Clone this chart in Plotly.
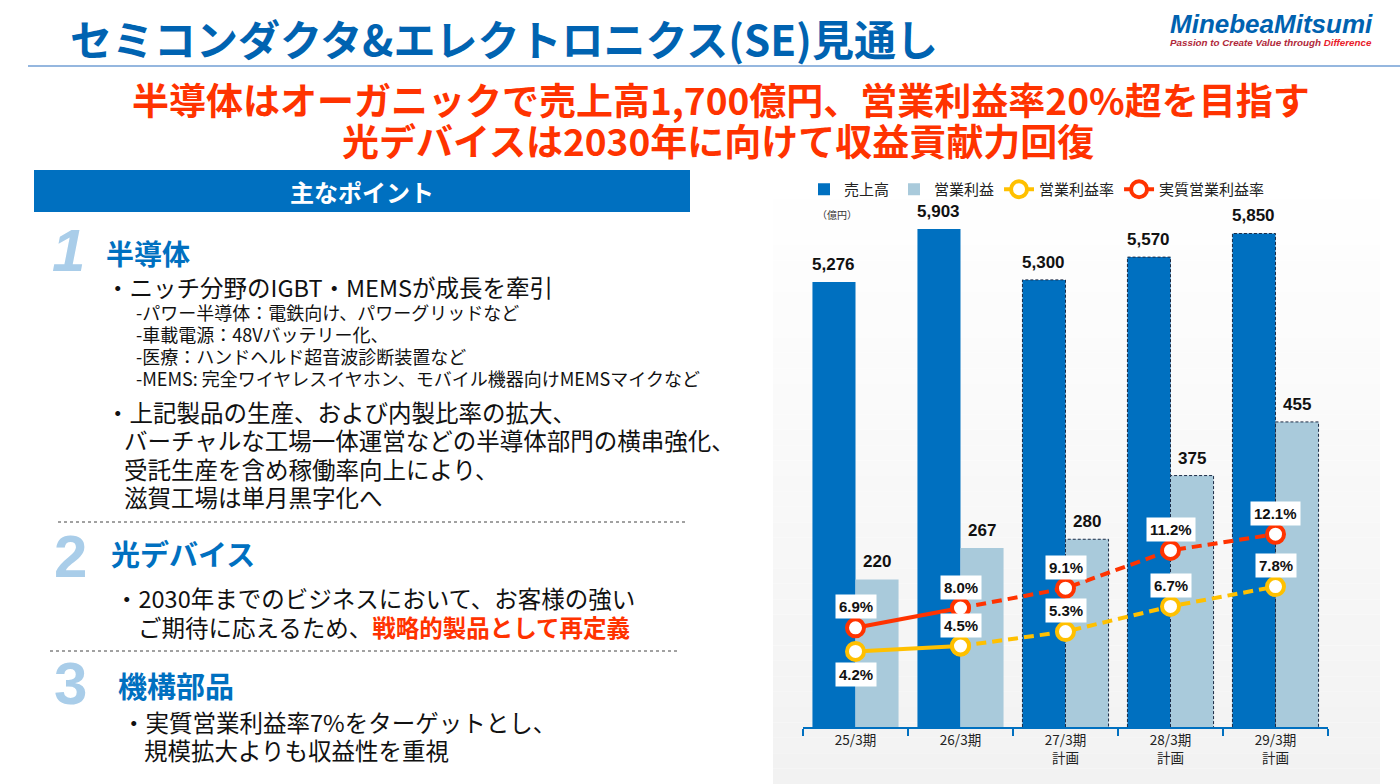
import plotly.graph_objects as go

W, H = 1400, 784
JP = "Noto Sans CJK JP"
LAT = "Liberation Sans"

# ---------------- data ----------------
categories = ["25/3期", "26/3期", "27/3期<br>計画", "28/3期<br>計画", "29/3期<br>計画"]
sales = [5276, 5903, 5300, 5570, 5850]          # 売上高 (億円)
profit = [220, 267, 280, 375, 455]              # 営業利益 (億円)
op_margin = [4.2, 4.5, 5.3, 6.7, 7.8]           # 営業利益率 (%)
adj_margin = [6.9, 8.0, 9.1, 11.2, 12.1]        # 実質営業利益率 (%)
first_plan = 2                                  # 計画 starts from 27/3期

BLUE = "#0070c0"
LIGHT = "#a9cadb"
YEL = "#ffc000"
RED = "#ff3300"
BW = 0.41

xs = list(range(len(categories)))


def px(x):
    return x / W


def py(y):
    return 1 - y / H


fig = go.Figure()

# ---------------- bars ----------------
fig.add_trace(go.Bar(x=xs, y=sales, name="売上高", marker=dict(color=BLUE, line=dict(width=0)),
                     width=[BW] * len(xs), offset=[-BW] * len(xs), yaxis="y", xaxis="x"))
fig.add_trace(go.Bar(x=xs, y=profit, name="営業利益", marker=dict(color=LIGHT, line=dict(width=0)),
                     width=[BW] * len(xs), offset=[0] * len(xs), yaxis="y2", xaxis="x"))

# dashed outlines for plan bars
def outline(vals, left):
    ox, oy = [], []
    for i in xs[first_plan:]:
        x0 = i - BW if left else i
        x1 = x0 + BW
        ox += [x0, x0, x1, x1, None]
        oy += [0, vals[i], vals[i], 0, None]
    return ox, oy

ox, oy = outline(sales, True)
fig.add_trace(go.Scatter(x=ox, y=oy, mode="lines", yaxis="y", showlegend=False, hoverinfo="skip",
                         line=dict(color="#1c2b45", width=1, dash="3px,2px")))
ox, oy = outline(profit, False)
fig.add_trace(go.Scatter(x=ox, y=oy, mode="lines", yaxis="y2", showlegend=False, hoverinfo="skip",
                         line=dict(color="#1c2b45", width=1, dash="3px,2px")))

# ---------------- lines ----------------
def add_line(vals, color, name, axis):
    mk = dict(size=17, color="white", line=dict(color=color, width=4))
    fig.add_trace(go.Scatter(x=xs[first_plan - 1:], y=vals[first_plan - 1:], mode="lines+markers",
                             yaxis=axis, showlegend=False, hoverinfo="skip",
                             line=dict(color=color, width=4, dash="10px,6px"), marker=mk))
    fig.add_trace(go.Scatter(x=xs[:first_plan], y=vals[:first_plan], mode="lines+markers",
                             yaxis=axis, name=name,
                             line=dict(color=color, width=4), marker=mk))

add_line(op_margin, YEL, "営業利益率", "y3")
add_line(adj_margin, RED, "実質営業利益率", "y4")

# ---------------- value labels ----------------
ann = []
for i in xs:
    ann.append(dict(x=i - BW / 2, y=sales[i], xref="x", yref="y", text=f"<b>{sales[i]:,}</b>",
                    showarrow=False, yanchor="bottom", yshift=6,
                    font=dict(family=LAT, size=17, color="#111")))
    ann.append(dict(x=i + BW / 2, y=profit[i], xref="x", yref="y2", text=f"<b>{profit[i]:,}</b>",
                    showarrow=False, yanchor="bottom", yshift=6,
                    font=dict(family=LAT, size=17, color="#111")))
    ann.append(dict(x=i, y=adj_margin[i], xref="x", yref="y4", text=f"<b>{adj_margin[i]:.1f}%</b>",
                    showarrow=False, yshift=21, bgcolor="white", borderpad=3,
                    font=dict(family=LAT, size=15, color="#111")))
    ann.append(dict(x=i, y=op_margin[i], xref="x", yref="y3", text=f"<b>{op_margin[i]:.1f}%</b>",
                    showarrow=False, yshift=(-23 if i == 0 else 21), bgcolor="white", borderpad=3,
                    font=dict(family=LAT, size=15, color="#111")))


def txt(x, y, s, size, color="#111", family=JP, anchor="left", **kw):
    ann.append(dict(x=px(x), y=py(y), xref="paper", yref="paper", text=s, showarrow=False,
                    xanchor=anchor, yanchor="middle", font=dict(family=family, size=size, color=color), **kw))

# unit
txt(815, 214, "（億円）", 10, "#333")

# ---------------- slide texts ----------------
txt(68, 38, "<b>セミコンダクタ&amp;エレクトロニクス(SE)見通し</b>", 42, "#0063b1")
txt(1168, 24, "<b><i>MinebeaMitsumi</i></b>", 26, "#0062b0", family=LAT)
txt(1168, 42, "<b><i>Passion to Create Value through <span style='color:#e8202a'>Difference</span></i></b>",
    9.8, "#b0283a", family=LAT)
txt(721, 99, "<b>半導体はオーガニックで売上高1,700億円、営業利益率20%超を目指す</b>", 37, RED, anchor="center")
txt(718, 140, "<b>光デバイスは2030年に向けて収益貢献力回復</b>", 37, RED, anchor="center")

txt(362, 191, "<b>主なポイント</b>", 24, "white", anchor="center")

NUMC = "#a9cde9"
MAIN = 23.5
SUB = 18
txt(50, 250, "<b><i>1</i></b>", 60, NUMC, family=LAT)
txt(104, 253, "<b>半導体</b>", 28, BLUE)
txt(104, 287, "・ニッチ分野のIGBT・MEMSが成長を牽引", MAIN)
txt(134, 312, "-パワー半導体：電鉄向け、パワーグリッドなど", SUB)
txt(134, 334, "-車載電源：48Vバッテリー化、", SUB)
txt(134, 356, "-医療：ハンドヘルド超音波診断装置など", SUB)
txt(134, 378, "-MEMS: 完全ワイヤレスイヤホン、モバイル機器向けMEMSマイクなど", SUB)
txt(104, 412, "・上記製品の生産、および内製比率の拡大、", MAIN)
txt(122, 440, "バーチャルな工場一体運営などの半導体部門の横串強化、", MAIN)
txt(122, 469, "受託生産を含め稼働率向上により、", MAIN)
txt(122, 497, "滋賀工場は単月黒字化へ", MAIN)

txt(52, 556, "<b>2</b>", 60, NUMC, family=LAT)
txt(109, 553, "<b>光デバイス</b>", 29, BLUE)
txt(113, 598, "・2030年までのビジネスにおいて、お客様の強い", MAIN)
txt(136, 627, "ご期待に応えるため、<span style='color:#ff3300'><b>戦略的製品として再定義</b></span>", MAIN)

txt(52, 683, "<b>3</b>", 60, NUMC, family=LAT)
txt(116, 685, "<b>機構部品</b>", 29, BLUE)
txt(120, 722, "・実質営業利益率7%をターゲットとし、", MAIN)
txt(142, 750, "規模拡大よりも収益性を重視", MAIN)

# ---------------- shapes ----------------
shapes = []
# chart panel with vertical gradient
top, bot, n = 168, 784, 40
for k in range(n):
    t = k / (n - 1)
    c = int(round(255 - 13 * t))
    shapes.append(dict(type="rect", xref="paper", yref="paper", layer="below", line=dict(width=0),
                       x0=px(773), x1=px(1380), y0=py(top + (bot - top) * k / n),
                       y1=py(top + (bot - top) * (k + 1) / n), fillcolor=f"rgb({c},{c},{c})"))
shapes.append(dict(type="line", xref="paper", yref="paper", x0=px(28), x1=1, y0=py(66), y1=py(66),
                   line=dict(color="#95b7df", width=2)))
shapes.append(dict(type="rect", xref="paper", yref="paper", x0=px(34), x1=px(690), y0=py(170), y1=py(212),
                   fillcolor=BLUE, line=dict(width=0), layer="below"))
shapes.append(dict(type="line", xref="paper", yref="paper", x0=px(58), x1=px(686), y0=py(522), y1=py(522),
                   line=dict(color="#444", width=1, dash="dot")))
shapes.append(dict(type="line", xref="paper", yref="paper", x0=px(50), x1=px(680), y0=py(651), y1=py(651),
                   line=dict(color="#444", width=1, dash="dot")))

# ---------------- layout ----------------
ydom = [py(727), py(200)]
fig.update_layout(
    width=W, height=H, margin=dict(l=0, r=0, t=0, b=0),
    paper_bgcolor="white", plot_bgcolor="rgba(0,0,0,0)",
    barmode="overlay", showlegend=True,
    legend=dict(orientation="h", x=px(804), y=py(173), xanchor="left", yanchor="top",
                font=dict(family=JP, size=15, color="#222"), bgcolor="rgba(0,0,0,0)",
                traceorder="normal"),
    xaxis=dict(domain=[px(803), px(1328)], range=[-0.5, len(xs) - 0.5], tickvals=xs, ticktext=categories,
               ticks="", showgrid=False, zeroline=False, showline=True, linecolor=BLUE, linewidth=2,
               tickfont=dict(family=JP, size=13.5, color="#222"),
               minor=dict(tickvals=[i - 0.5 for i in range(len(xs) + 1)], ticks="outside", ticklen=7,
                          tickcolor=BLUE, tickwidth=2, showgrid=False)),
    yaxis=dict(domain=ydom, range=[0, 6247], visible=False),
    yaxis2=dict(range=[0, 786], overlaying="y", visible=False),
    yaxis3=dict(range=[0, 29.28], overlaying="y", visible=False),
    yaxis4=dict(range=[1.389, 30.67], overlaying="y", visible=False),
    annotations=ann, shapes=shapes,
)

fig.write_html("out.html")
